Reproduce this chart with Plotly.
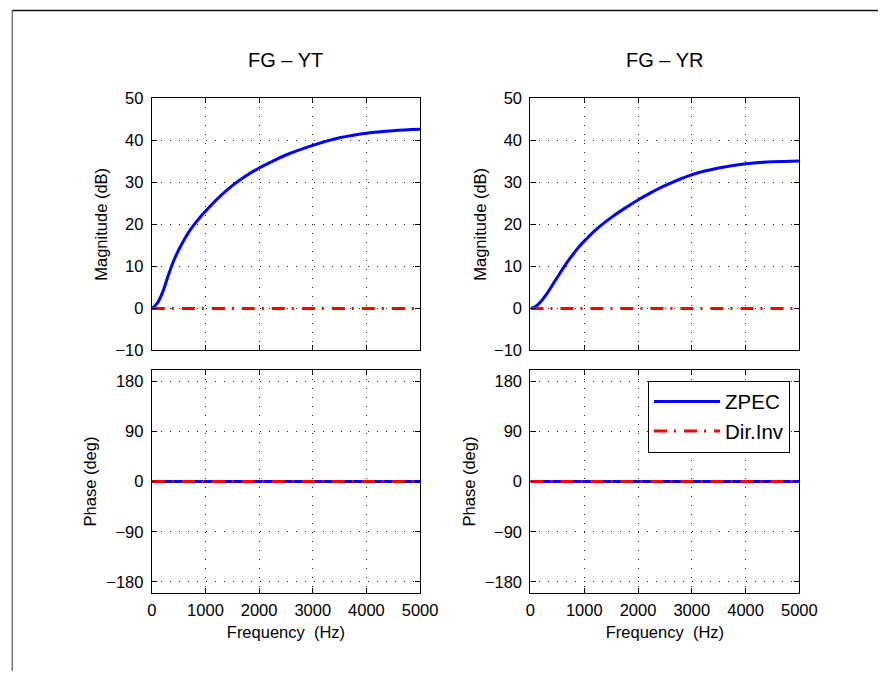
import plotly.graph_objects as go

# Frequency grid (Hz) for the magnitude responses
freq_hz = [0, 100, 200, 300, 400, 500, 600, 700, 800, 900, 1000, 1250, 1500,
           1750, 2000, 2250, 2500, 3000, 3500, 4000, 4500, 5000]

# ZPEC magnitude (dB), FG - YT
zpec_mag_yt = [0.0, 1.2, 3.8, 7.6, 11.1, 13.9, 16.3, 18.4, 20.1, 21.7, 23.1,
               26.4, 29.2, 31.5, 33.4, 35.0, 36.5, 38.8, 40.6, 41.7, 42.3, 42.6]
# ZPEC magnitude (dB), FG - YR
zpec_mag_yr = [0.0, 0.5, 1.7, 3.4, 5.4, 7.4, 9.4, 11.3, 13.0, 14.6, 16.0,
               19.1, 21.6, 23.8, 25.8, 27.6, 29.2, 31.8, 33.4, 34.4, 34.9, 35.1]

# Direct inverse: flat 0 dB; both phase responses are 0 deg
flat_freq = [0, 5000]
dirinv_mag = [0, 0]
zpec_phase = [0, 0]
dirinv_phase = [0, 0]

titles = ["FG \u2013 YT", "FG \u2013 YR"]
mag_ticks = [-10, 0, 10, 20, 30, 40, 50]
phase_ticks = [-180, -90, 0, 90, 180]
freq_ticks = [0, 1000, 2000, 3000, 4000, 5000]

W, H = 896, 680
FONT = "Arial, Liberation Sans, sans-serif"
BLUE = "#0000ff"
RED = "#ff0000"
DASHDOT = "13px,7px,2px,8px"


def px_x(p):
    return p / W


def px_y(p):
    return 1 - p / H


col_dom = [[px_x(150.7), px_x(426.0)], [px_x(539.3), px_x(815.3)]]
top_dom = [px_y(350.7), px_y(91.7)]
bot_dom = [px_y(600.0), px_y(370.7)]

fig = go.Figure()

mags = [zpec_mag_yt, zpec_mag_yr]
for c in range(2):
    it, ib = c + 1, c + 3
    xt = "x" if it == 1 else f"x{it}"
    yt = "y" if it == 1 else f"y{it}"
    xb, yb = f"x{ib}", f"y{ib}"
    show = (c == 1)
    fig.add_trace(go.Scatter(x=freq_hz, y=mags[c], mode="lines",
                             line=dict(color=BLUE, width=3, shape="spline", smoothing=1.0),
                             name="ZPEC", showlegend=False, xaxis=xt, yaxis=yt))
    fig.add_trace(go.Scatter(x=flat_freq, y=dirinv_mag, mode="lines",
                             line=dict(color=RED, width=3, dash=DASHDOT),
                             name="Dir.Inv", showlegend=False, xaxis=xt, yaxis=yt))
    fig.add_trace(go.Scatter(x=flat_freq, y=zpec_phase, mode="lines",
                             line=dict(color=BLUE, width=3),
                             name="ZPEC", showlegend=show, xaxis=xb, yaxis=yb))
    fig.add_trace(go.Scatter(x=flat_freq, y=dirinv_phase, mode="lines",
                             line=dict(color=RED, width=3, dash=DASHDOT),
                             name="Dir.Inv", showlegend=show, xaxis=xb, yaxis=yb))

axis_common = dict(showline=True, linecolor="black", linewidth=1.2, mirror="allticks",
                   ticks="inside", ticklen=5, tickcolor="black", tickwidth=1,
                   showgrid=True, gridcolor="#222", gridwidth=1, griddash="1px,8px",
                   zeroline=False, tickfont=dict(family=FONT, size=16.5, color="black"),
                   title_font=dict(family=FONT, size=16.5, color="black"))

layout = dict(width=W, height=H, margin=dict(l=0, r=0, t=0, b=0),
              paper_bgcolor="white", plot_bgcolor="white",
              font=dict(family=FONT, color="black"))

for c in range(2):
    it, ib = c + 1, c + 3
    kx_t = "xaxis" if it == 1 else f"xaxis{it}"
    ky_t = "yaxis" if it == 1 else f"yaxis{it}"
    kx_b, ky_b = f"xaxis{ib}", f"yaxis{ib}"
    yref_t = "y" if it == 1 else f"y{it}"
    xref_t = "x" if it == 1 else f"x{it}"
    layout[kx_t] = dict(axis_common, domain=col_dom[c], range=[0, 5000],
                        tickvals=freq_ticks, showticklabels=False, anchor=yref_t)
    layout[ky_t] = dict(axis_common, domain=top_dom, range=[-10, 50],
                        tickvals=mag_ticks, anchor=xref_t,
                        title=dict(text="Magnitude (dB)", standoff=3),
                        ticklabelstandoff=4)
    layout[kx_b] = dict(axis_common, domain=col_dom[c], range=[0, 5000],
                        tickvals=freq_ticks, anchor=f"y{ib}",
                        title=dict(text="Frequency  (Hz)", standoff=8),
                        ticklabelstandoff=2)
    layout[ky_b] = dict(axis_common, domain=bot_dom, range=[-200, 200],
                        tickvals=phase_ticks, anchor=f"x{ib}",
                        title=dict(text="Phase (deg)", standoff=5),
                        ticklabelstandoff=4)

annotations = []
for c in range(2):
    annotations.append(dict(text=titles[c], x=sum(col_dom[c]) / 2, y=px_y(52.5),
                            xref="paper", yref="paper", xanchor="center", yanchor="middle",
                            showarrow=False, font=dict(family=FONT, size=20, color="black")))
layout["annotations"] = annotations

layout["legend"] = dict(x=px_x(805.7), y=px_y(381.7), xanchor="right", yanchor="top",
                        bgcolor="white", bordercolor="black", borderwidth=1,
                        font=dict(family=FONT, size=20.5, color="black"),
                        itemwidth=66, tracegroupgap=0)

# Figure frame: grey left edge and dark top edge
layout["shapes"] = [
    dict(type="line", xref="paper", yref="paper", x0=px_x(7.5), x1=px_x(7.5),
         y0=px_y(1.5), y1=0, line=dict(color="#777", width=1.5)),
    dict(type="line", xref="paper", yref="paper", x0=px_x(7.5), x1=1,
         y0=px_y(1.5), y1=px_y(1.5), line=dict(color="#111", width=1.5)),
]

fig.update_layout(layout)
fig.write_html("out.html")
